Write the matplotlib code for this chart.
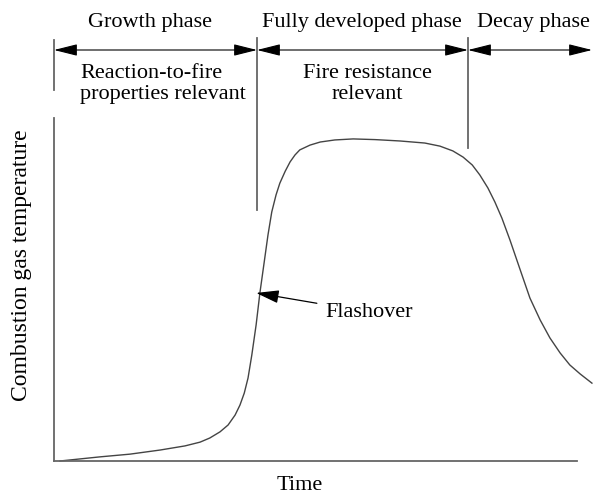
import matplotlib.pyplot as plt

# curve (time / temperature, 0-100 arbitrary units)
time = [1.1, 4.8, 8.5, 14.1, 19.7, 24.3, 27.1, 28.9, 30.8, 32.3, 33.6, 34.5,
        35.3, 36.0, 36.7, 37.5, 38.2, 39.0, 39.7, 40.4, 41.2, 41.9, 42.9, 43.8,
        44.7, 45.6, 47.5, 49.4, 52.1, 55.5, 59.6, 64.2, 68.8, 71.6, 74.0, 75.9,
        77.6, 79.0, 80.5, 81.8, 83.1, 84.6, 86.5, 88.3, 90.2, 92.0, 93.9, 95.7,
        97.6, 99.8]
temp = [0.0, 0.6, 1.2, 2.0, 3.2, 4.4, 5.5, 6.7, 8.5, 10.5, 13.4, 16.3,
        19.8, 24.2, 30.9, 39.7, 49.0, 58.0, 65.9, 72.6, 77.6, 81.0, 84.5, 87.2,
        89.2, 90.7, 92.1, 93.0, 93.6, 93.9, 93.7, 93.3, 92.7, 91.8, 90.4, 88.6,
        86.3, 83.4, 79.6, 75.5, 70.8, 64.4, 55.7, 47.5, 41.1, 35.9, 31.5, 28.0,
        25.4, 22.7]

phase_names = ["Growth phase", "Fully developed phase", "Decay phase"]
phase_notes = ["Reaction-to-fire\nproperties relevant", "Fire resistance\nrelevant", ""]
flashover = (37.5, 49.0)

plt.rcParams['font.family'] = ['Liberation Serif', 'DejaVu Serif']
W, H = 593, 497
fig = plt.figure(figsize=(W / 100, H / 100), dpi=100)

# main axes (pixel box: x 54..593, y 118..461)
ax = fig.add_axes([54 / W, (H - 461) / H, (593 - 54) / W, (461 - 118) / H])
ax.set_xlim(0, 100)
ax.set_ylim(0, 100)
ax.plot(time, temp, color='#444444', lw=1.0, clip_on=False)
for s in ['top', 'right']:
    ax.spines[s].set_visible(False)
for s in ['left', 'bottom']:
    ax.spines[s].set_color('#666666')
    ax.spines[s].set_linewidth(1.3)
ax.spines['bottom'].set_bounds(0, (577 - 54) / (593 - 54) * 100)
ax.set_xticks([])
ax.set_yticks([])

ax.annotate("Flashover", xy=flashover, xytext=(50.3, 43.4), fontsize=16,
            va='center', ha='left',
            arrowprops=dict(arrowstyle='-|>,head_length=0.7,head_width=0.2',
                            mutation_scale=20, color='black', lw=0.9,
                            shrinkA=4, shrinkB=0))

# overlay for the phase annotations, pixel coordinates
ov = fig.add_axes([0, 0, 1, 1])
ov.set_xlim(0, W)
ov.set_ylim(H, 0)
ov.axis('off')

lc = '#666666'
ov.plot([54, 54], [40, 90], color=lc, lw=1.3)
ov.plot([257, 257], [38, 210], color=lc, lw=1.3)
ov.plot([468, 468], [38, 148], color=lc, lw=1.3)

bounds = [54, 257, 468, 592]
astyle = '<|-|>,head_length=0.72,head_width=0.18'
for i in range(3):
    ov.annotate("", xy=(bounds[i], 50), xytext=(bounds[i + 1], 50),
                arrowprops=dict(arrowstyle=astyle, mutation_scale=20,
                                color='black', lw=0.8, shrinkA=0, shrinkB=0))

ov.text(150, 22, phase_names[0], fontsize=16, ha='center', va='center')
ov.text(362, 22, phase_names[1], fontsize=16, ha='center', va='center')
ov.text(533, 22, phase_names[2], fontsize=16, ha='center', va='center')
ov.text(80, 84, phase_notes[0], fontsize=16, ha='left', va='center',
        linespacing=1.15)
ov.text(367, 84, phase_notes[1], fontsize=16, ha='center', va='center',
        multialignment='center', linespacing=1.15)

ov.text(22, 265, "Combustion gas temperature", fontsize=17, rotation=90,
        ha='center', va='center')
ov.text(300, 486, "Time", fontsize=16, ha='center', va='center')

fig.savefig('out.png', dpi=100)
